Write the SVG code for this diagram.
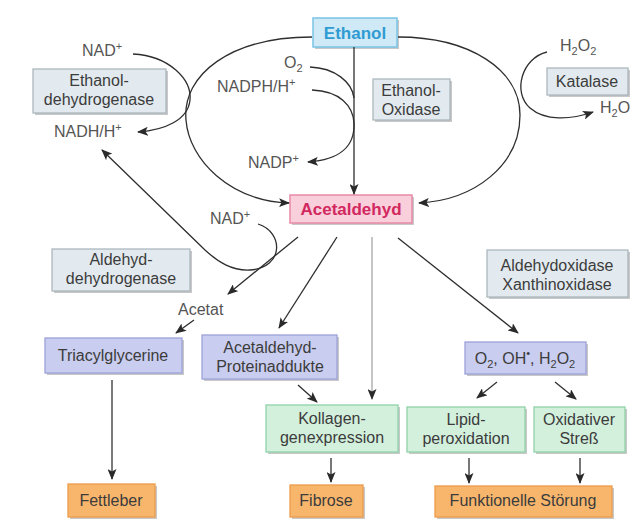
<svg xmlns="http://www.w3.org/2000/svg" width="632" height="526" viewBox="0 0 632 526">
<defs>
<marker id="ah" viewBox="0 0 11 9" refX="10" refY="4.5" markerWidth="11" markerHeight="9" markerUnits="userSpaceOnUse" orient="auto">
<path d="M0,0 L11,4.5 L0,9 L2.5,4.5 z" fill="#2a2a2a"/>
</marker>
<style>
text{font-family:"Liberation Sans",Arial,sans-serif;font-size:16px;fill:#3c3c3c;text-anchor:middle}
.b{font-size:17px;font-weight:bold}
.lbl{font-size:16px;fill:#555;text-anchor:start}
.sh{fill:#9a9a9a;opacity:0.55}
.gray{fill:#e2eaef;stroke:#a7b3ba;stroke-width:1.2}
.blue{fill:#cfe9f7;stroke:#79c4e6;stroke-width:1.5}
.pink{fill:#f8cfdb;stroke:#e88aa6;stroke-width:1.5}
.lav{fill:#c9cdef;stroke:#9ca1d8;stroke-width:1.3}
.grn{fill:#d3f0dd;stroke:#8fd3a9;stroke-width:1.3}
.org{fill:#f8b66c;stroke:#eb9c4a;stroke-width:1.3}
.c path{fill:none;stroke:#2e2e2e;stroke-width:1.3;marker-end:url(#ah)}
.c path.thin{stroke:#8a8a8a;stroke-width:1}
.c path.thick{stroke:#7a7a7a;stroke-width:2}
.c path.nm{marker-end:none}
</style>
</defs>
<rect width="632" height="526" fill="#ffffff"/>

<g id="ethanol">
<rect class="sh" x="315" y="20" width="84" height="29"/>
<rect class="blue" x="313" y="18" width="84" height="29"/>
<text class="b" x="355" y="39" style="fill:#2f9bd2">Ethanol</text>
</g>

<g id="adh">
<rect class="sh" x="35" y="71" width="133" height="44"/>
<rect class="gray" x="33" y="69" width="133" height="44"/>
<text x="99" y="86">Ethanol-</text>
<text x="99" y="105">dehydrogenase</text>
</g>

<g id="oxidase">
<rect class="sh" x="375" y="81" width="77" height="41"/>
<rect class="gray" x="373" y="79" width="77" height="41"/>
<text x="411" y="96">Ethanol-</text>
<text x="411" y="115">Oxidase</text>
</g>

<g id="katalase">
<rect class="sh" x="549" y="70" width="81" height="27"/>
<rect class="gray" x="547" y="68" width="81" height="27"/>
<text x="587" y="87">Katalase</text>
</g>

<g id="acetaldehyd">
<rect class="sh" x="292" y="197" width="122" height="28"/>
<rect class="pink" x="290" y="195" width="122" height="28"/>
<text class="b" x="351" y="215" style="fill:#d2285f">Acetaldehyd</text>
</g>

<g id="aldh">
<rect class="sh" x="54" y="251" width="138" height="42"/>
<rect class="gray" x="52" y="249" width="138" height="42"/>
<text x="121" y="265">Aldehyd-</text>
<text x="121" y="284">dehydrogenase</text>
</g>

<g id="aldox">
<rect class="sh" x="489" y="252" width="141" height="47"/>
<rect class="gray" x="487" y="250" width="141" height="47"/>
<text x="557" y="271">Aldehydoxidase</text>
<text x="557" y="290">Xanthinoxidase</text>
</g>

<g id="tg">
<rect class="sh" x="47" y="340" width="137" height="35"/>
<rect class="lav" x="45" y="338" width="137" height="35"/>
<text x="113" y="361">Triacylglycerine</text>
</g>

<g id="addukte">
<rect class="sh" x="204" y="337" width="135" height="44"/>
<rect class="lav" x="202" y="335" width="135" height="44"/>
<text x="270" y="353">Acetaldehyd-</text>
<text x="270" y="372">Proteinaddukte</text>
</g>

<g id="ros">
<rect class="sh" x="467" y="344" width="121" height="32"/>
<rect class="lav" x="465" y="342" width="121" height="32"/>
<text x="525" y="364">O<tspan font-size="11" dy="4">2</tspan><tspan dy="-4">, OH</tspan><tspan font-size="11" dy="-7">•</tspan><tspan dy="7">, H</tspan><tspan font-size="11" dy="4">2</tspan><tspan dy="-4">O</tspan><tspan font-size="11" dy="4">2</tspan></text>
</g>

<g id="kollagen">
<rect class="sh" x="268" y="407" width="132" height="47"/>
<rect class="grn" x="266" y="405" width="132" height="47"/>
<text x="332" y="424">Kollagen-</text>
<text x="332" y="443">genexpression</text>
</g>

<g id="lipid">
<rect class="sh" x="409" y="409" width="118" height="45"/>
<rect class="grn" x="407" y="407" width="118" height="45"/>
<text x="466" y="425">Lipid-</text>
<text x="466" y="444">peroxidation</text>
</g>

<g id="stress">
<rect class="sh" x="536" y="409" width="91" height="45"/>
<rect class="grn" x="534" y="407" width="91" height="45"/>
<text x="579" y="425">Oxidativer</text>
<text x="579" y="444">Streß</text>
</g>

<g id="fettleber">
<rect class="sh" x="70" y="486" width="87" height="33"/>
<rect class="org" x="68" y="484" width="87" height="33"/>
<text x="111" y="506">Fettleber</text>
</g>

<g id="fibrose">
<rect class="sh" x="292" y="487" width="73" height="32"/>
<rect class="org" x="290" y="485" width="73" height="32"/>
<text x="326" y="506">Fibrose</text>
</g>

<g id="funktion">
<rect class="sh" x="437" y="488" width="177" height="31"/>
<rect class="org" x="435" y="486" width="177" height="31"/>
<text x="523" y="506">Funktionelle Störung</text>
</g>

<g id="labels">
<text class="lbl" x="82" y="56">NAD<tspan font-size="11" dy="-6">+</tspan></text>
<text class="lbl" x="54" y="137">NADH/H<tspan font-size="11" dy="-6">+</tspan></text>
<text class="lbl" x="284" y="68">O<tspan font-size="11" dy="4">2</tspan></text>
<text class="lbl" x="217" y="92">NADPH/H<tspan font-size="11" dy="-6">+</tspan></text>
<text class="lbl" x="248" y="168">NADP<tspan font-size="11" dy="-6">+</tspan></text>
<text class="lbl" x="560" y="51">H<tspan font-size="11" dy="4">2</tspan><tspan dy="-4">O</tspan><tspan font-size="11" dy="4">2</tspan></text>
<text class="lbl" x="600" y="113">H<tspan font-size="11" dy="4">2</tspan><tspan dy="-4">O</tspan></text>
<text class="lbl" x="210" y="224">NAD<tspan font-size="11" dy="-6">+</tspan></text>
<text class="lbl" x="178" y="315">Acetat</text>
</g>

<g id="connectors" class="c">
<path d="M354,47 L354,194"/>
<path d="M312,37 C230,37 182,75 186,120 C189,160 230,201 289,203"/>
<path d="M133,54 C170,56 192,80 190,100 C188,120 165,130 138,132"/>
<path d="M398,37 C470,37 520,70 520,115 C520,165 475,200 419,203"/>
<path class="nm" d="M310,67 C335,68 352,82 354,98"/>
<path d="M312,90 C340,91 353,106 354,123 C355,146 340,160 308,162"/>
<path d="M547,52 C522,58 512,92 530,108 C545,121 570,120 593,112"/>
<path d="M258,224 C284,232 284,268 250,270 C232,271 218,262 205,250 L102,150"/>
<path d="M298,237 L228,294"/>
<path d="M194,320 L176,333"/>
<path d="M337,237 L279,328"/>
<path class="thin" d="M372,237 L372,399"/>
<path d="M398,238 L518,333"/>
<path d="M298,385 L317,402"/>
<path class="thick" d="M112,380 L112,479"/>
<path d="M497,382 L477,398"/>
<path d="M555,382 L576,399"/>
<path d="M331,458 L331,482"/>
<path d="M469,458 L469,483"/>
<path d="M580,458 L580,483"/>
</g>
</svg>
